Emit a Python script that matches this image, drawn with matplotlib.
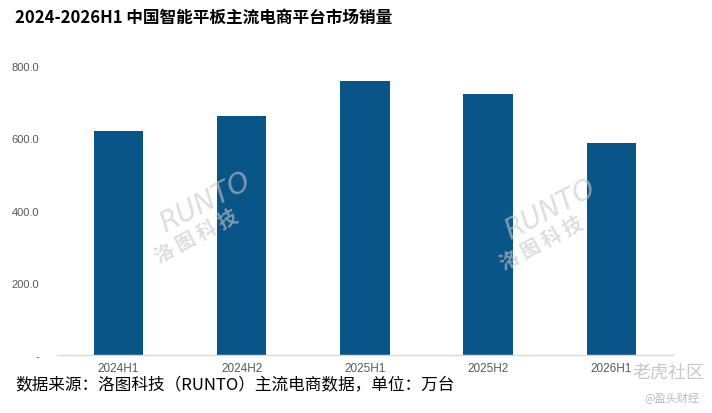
import matplotlib
matplotlib.use("Agg")
import matplotlib.pyplot as plt
from matplotlib import font_manager as fm

plt.rcParams['font.family'] = ['Noto Sans CJK SC', 'DejaVu Sans']

categories = ["2024H1", "2024H2", "2025H1", "2025H2", "2026H1"]
sales = [620, 662, 758, 723, 588]
yticks = [0, 200, 400, 600, 800]
ytick_labels = ["-", "200.0", "400.0", "600.0", "800.0"]
title = "2024-2026H1 中国智能平板主流电商平台市场销量"
source = "数据来源：洛图科技（RUNTO）主流电商数据，单位：万台"

names = {f.name for f in fm.fontManager.ttflist}
narrow = 'Liberation Sans Narrow' if 'Liberation Sans Narrow' in names else 'Liberation Sans'

fig = plt.figure(figsize=(7.12, 4.14), dpi=100)
ax = fig.add_axes([0.080, 0.140, 0.865, 0.698])

x = list(range(len(categories)))
ax.bar(x, sales, width=0.4, color='#0A5588', zorder=2)
ax.set_xlim(-0.5, len(categories) - 0.5)
ax.set_ylim(0, 800)
ax.set_yticks(yticks)
ax.set_yticklabels(ytick_labels, fontsize=8, color='#595959', family='Liberation Sans')
ax.set_xticks(x)
ax.set_xticklabels(categories, fontsize=8.5, color='#595959', family=narrow)
ax.tick_params(axis='both', length=0)
ax.tick_params(axis='y', pad=13)
ax.tick_params(axis='x', pad=5)
for s in ['top', 'right', 'left']:
    ax.spines[s].set_visible(False)
ax.spines['bottom'].set_color('#D9D9D9')
ax.spines['bottom'].set_linewidth(1.0)

fig.text(15/712, 1 - 18/414, title, fontsize=12, fontweight='bold', color='#000000',
         va='center', ha='left')
fig.text(15/712, 1 - 386/414, source, fontsize=12, color='#000000', va='center', ha='left')

# watermarks
for cx, cy in [(205, 215), (550, 222)]:
    fig.text(cx/712, 1 - (cy - 12)/414, "RUNTO", fontsize=20, style='italic', color='#C8C8C8',
             alpha=0.6, rotation=28, ha='center', va='center', family='DejaVu Sans')
    fig.text((cx - 8)/712, 1 - (cy + 22)/414, "洛 图 科 技", fontsize=14, fontweight='bold',
             color='#C8C8C8', alpha=0.6, rotation=28, ha='center', va='center')
fig.text(668/712, 1 - 373/414, "老虎社区", fontsize=13, color='#C8C8C8', ha='center', va='center')
fig.text(672/712, 1 - 398/414, "@盈头财经", fontsize=8, color='#BBBBBB', ha='center', va='center')

fig.savefig("out.png", dpi=100)
